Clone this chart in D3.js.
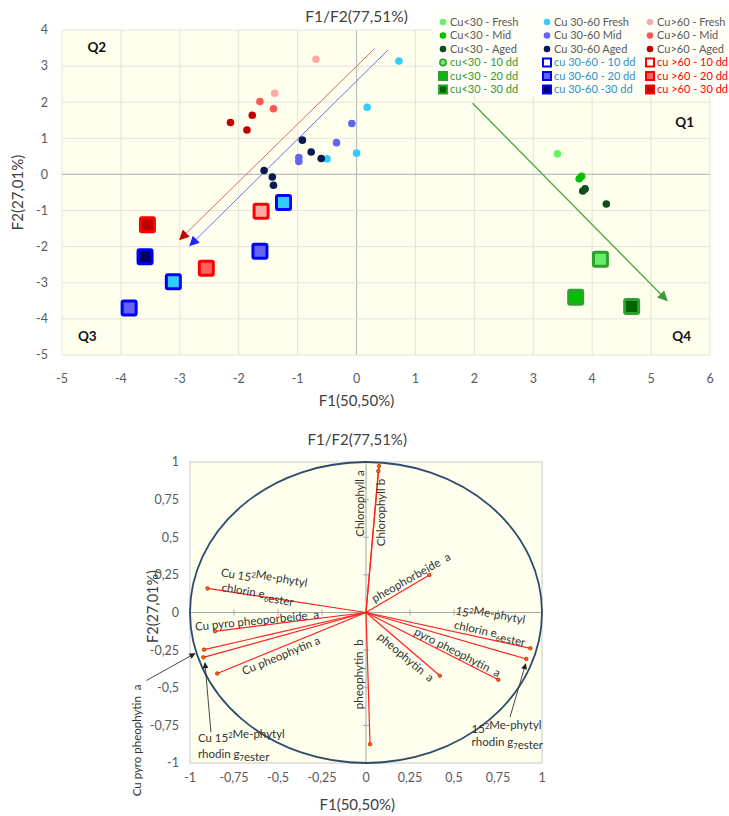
<!DOCTYPE html>
<html><head><meta charset="utf-8">
<script src="https://cdn.jsdelivr.net/npm/d3@7"></script>
<style>
body{margin:0;background:#fff;}
svg{display:block;font-family:Lato,"Liberation Sans",sans-serif;}
</style></head><body>
<svg id="chart" width="729" height="816"></svg>
<script>
// ---------- Score plot data (F1 / F2 scores) ----------
const xTicksTop = [-5,-4,-3,-2,-1,0,1,2,3,4,5,6];
const yTicksTop = [-5,-4,-3,-2,-1,0,1,2,3,4];

const cuLowFresh  = [[3.41,0.57]];
const cuLowMid    = [[3.78,-0.12],[3.82,-0.05]];
const cuLowAged   = [[3.84,-0.46],[3.88,-0.40],[4.24,-0.82]];
const cuMidFresh  = [[0.72,3.14],[0.18,1.86],[0.00,0.59],[-0.50,0.43]];
const cuMidMid    = [[-0.08,1.41],[-0.34,0.88],[-0.98,0.47],[-0.98,0.36]];
const cuMidAged   = [[-0.92,0.95],[-0.77,0.62],[-0.60,0.44],[-1.57,0.11],[-1.43,-0.07],[-1.41,-0.30]];
const cuHighFresh = [[-0.69,3.19],[-1.39,2.25]];
const cuHighMid   = [[-1.64,2.02],[-1.41,1.82]];
const cuHighAged  = [[-2.14,1.44],[-1.86,1.23],[-1.77,1.64]];

const cuLow10  = [[4.14,-2.35]];
const cuLow20  = [[3.72,-3.40]];
const cuLow30  = [[4.67,-3.66]];
const cuMid10  = [[-1.24,-0.78],[-3.11,-2.97]];
const cuMid20  = [[-1.64,-2.13],[-3.86,-3.70]];
const cuMid30  = [[-3.59,-2.28]];
const cuHigh10 = [[-1.62,-1.02]];
const cuHigh20 = [[-2.55,-2.60]];
const cuHigh30 = [[-3.55,-1.39]];

const legendLabels = [
  ["Cu<30 - Fresh","Cu<30 - Mid","Cu<30 - Aged","cu<30 - 10 dd","cu<30 - 20 dd","cu<30 - 30 dd"],
  ["Cu 30-60 Fresh","Cu 30-60 Mid","Cu 30-60 Aged","cu 30-60 - 10 dd","cu 30-60 - 20 dd","cu 30-60 -30 dd"],
  ["Cu>60 - Fresh","Cu>60 - Mid","Cu>60 - Aged","cu >60 - 10 dd","cu >60 - 20 dd","cu >60 - 30 dd"]
];

// trend arrows: [x1, y1, x2, y2] in score units
const trendArrows = [[0.31,3.49,-3.00,-1.80],[0.53,3.44,-2.83,-1.97],[1.97,1.97,5.27,-3.49]];
const quadrantNames = ["Q1","Q2","Q3","Q4"];
const quadrantSpots = [[5.57,1.44],[-4.41,3.52],[-4.57,-4.49],[5.52,-4.49]];

// ---------- Correlation circle data (variable loadings) ----------
const ticksBot = [-1,-0.75,-0.5,-0.25,0,0.25,0.5,0.75,1];
const variables = ["Chlorophyll a","Chlorophyll b","pheophorbeide a","Cu 15²Me-phytyl chlorin e6 ester",
  "Cu pyro pheoporbeide a","Cu pyro pheophytin a","Cu 15²Me-phytyl rhodin g7 ester","Cu pheophytin a",
  "15²Me-phytyl chlorin e6 ester","15²Me-phytyl rhodin g7 ester","pyro pheophytin a","pheophytin a","pheophytin b"];
const loadingsF1 = [0.074,0.070,0.360,-0.900,-0.858,-0.920,-0.924,-0.845,0.934,0.911,0.752,0.420,0.023];
const loadingsF2 = [0.973,0.940,0.249,0.160,-0.125,-0.247,-0.298,-0.405,-0.238,-0.309,-0.447,-0.420,-0.875];
const pointerArrows = [[-1.247,-0.452,-0.972,-0.272],[-0.881,-0.795,-0.915,-0.334],[0.818,-0.696,0.907,-0.341]];

// ---------- drawing ----------
const svg = d3.select("#chart");
const fmt = v => String(v).replace(".", ",");
const defs = svg.append("defs");
function arrowMarker(id, color, w, h) {
  defs.append("marker").attr("id", id).attr("viewBox","0 0 10 10").attr("refX",9).attr("refY",5)
    .attr("markerWidth", w).attr("markerHeight", h).attr("markerUnits","userSpaceOnUse").attr("orient","auto")
    .append("path").attr("d","M0,0 L10,5 L0,10 Z").attr("fill", color);
}
arrowMarker("ahRed", "#C00000", 12, 10);
arrowMarker("ahBlue", "#2222FF", 12, 10);
arrowMarker("ahGreen", "#3C9A3C", 12, 10);
arrowMarker("ahBlack", "#222", 7, 6);

// ===== Score plot =====
const xTop = d3.scaleLinear().domain([-5,6]).range([62,710]);
const yTop = d3.scaleLinear().domain([-5,4]).range([355,30]);
const scoreG = svg.append("g");

scoreG.append("rect").attr("x", xTop(-5)).attr("y", yTop(4))
  .attr("width", xTop(6)-xTop(-5)).attr("height", yTop(-5)-yTop(4)).attr("fill","#FFFFEE");

scoreG.append("g").selectAll("line").data(xTicksTop).join("line")
  .attr("x1", d=>xTop(d)).attr("x2", d=>xTop(d)).attr("y1", yTop(4)).attr("y2", yTop(-5))
  .attr("stroke", d=> d===0 ? "#BDBDBD" : "#E4E4DA").attr("stroke-width", d=> d===0 ? 1.2 : 1);
scoreG.append("g").selectAll("line").data(yTicksTop).join("line")
  .attr("y1", d=>yTop(d)).attr("y2", d=>yTop(d)).attr("x1", xTop(-5)).attr("x2", xTop(6))
  .attr("stroke", d=> d===0 ? "#BDBDBD" : "#E4E4DA").attr("stroke-width", d=> d===0 ? 1.2 : 1);

scoreG.append("g").selectAll("text").data(xTicksTop).join("text")
  .attr("x", d=>xTop(d)).attr("y", 383).attr("text-anchor","middle")
  .attr("font-size", 12.5).attr("fill","#595959").text(d=>d);
scoreG.append("g").selectAll("text").data(yTicksTop).join("text")
  .attr("x", 48).attr("y", d=>yTop(d)).attr("dy","0.35em").attr("text-anchor","end")
  .attr("font-size", 12.5).attr("fill","#595959").text(d=>d);

scoreG.append("text").attr("x", xTop(0)).attr("y", 406).attr("text-anchor","middle")
  .attr("font-size", 15).attr("fill","#404040").text("F1(50,50%)");
scoreG.append("text").attr("transform", `translate(23,${yTop(-0.5)}) rotate(-90)`).attr("text-anchor","middle")
  .attr("font-size", 15).attr("fill","#404040").text("F2(27,01%)");
scoreG.append("text").attr("x", xTop(0)).attr("y", 22).attr("text-anchor","middle")
  .attr("font-size", 15.5).attr("fill","#404040").text("F1/F2(77,51%)");

scoreG.append("g").selectAll("text").data(quadrantNames).join("text")
  .attr("x", (d,i)=>xTop(quadrantSpots[i][0])).attr("y", (d,i)=>yTop(quadrantSpots[i][1]))
  .attr("dy","0.35em").attr("text-anchor","middle").attr("font-size", 13.5).attr("font-weight","bold")
  .attr("fill","#111").text(d=>d);

// trend arrows
const arrowStyle = [["#D46A6A","ahRed",1],["#6F6FEF","ahBlue",1],["#4FAA4F","ahGreen",1.4]];
scoreG.append("g").selectAll("line").data(trendArrows).join("line")
  .attr("x1", d=>xTop(d[0])).attr("y1", d=>yTop(d[1])).attr("x2", d=>xTop(d[2])).attr("y2", d=>yTop(d[3]))
  .attr("stroke", (d,i)=>arrowStyle[i][0]).attr("stroke-width", (d,i)=>arrowStyle[i][2])
  .attr("marker-end", (d,i)=>`url(#${arrowStyle[i][1]})`);

// circle series
const circleSeries = [
  [cuLowFresh,"#66F266"],[cuLowMid,"#00C000"],[cuLowAged,"#0B4F1F"],
  [cuMidFresh,"#33CCFF"],[cuMidMid,"#6363F5"],[cuMidAged,"#0A1A50"],
  [cuHighFresh,"#FFA8A8"],[cuHighMid,"#FF5555"],[cuHighAged,"#C00000"]
];
circleSeries.forEach(([pts,col]) => {
  scoreG.append("g").selectAll("circle").data(pts).join("circle")
    .attr("cx", d=>xTop(d[0])).attr("cy", d=>yTop(d[1])).attr("r", 3.8).attr("fill", col);
});

// square series (fill, border)
const squareSeries = [
  [cuLow10,"#66EE66","#2FA02F"],[cuLow20,"#00C000","#2FA02F"],[cuLow30,"#006400","#2FA02F"],
  [cuMid10,"#33CCFF","#0000FF"],[cuMid20,"#6363F5","#0000FF"],[cuMid30,"#000066","#0000FF"],
  [cuHigh10,"#FFA8A8","#FF0000"],[cuHigh20,"#FF6060","#FF0000"],[cuHigh30,"#C00000","#FF0000"]
];
const sq = 14;
squareSeries.forEach(([pts,fill,stroke]) => {
  scoreG.append("g").selectAll("rect").data(pts).join("rect")
    .attr("x", d=>xTop(d[0])-sq/2).attr("y", d=>yTop(d[1])-sq/2).attr("width", sq).attr("height", sq)
    .attr("rx", 1.5).attr("fill", fill).attr("stroke", stroke).attr("stroke-width", 3);
});

// legend
const lg = scoreG.append("g");
lg.append("rect").attr("x", 433).attr("y", 12).attr("width", 296).attr("height", 84).attr("fill","#FFFFF8");
const colX = [443, 547, 650];
const rowY = [22, 35.5, 49, 62.5, 76, 89.5];
const textCols = [["#595959","#339933"],["#595959","#2E90CC"],["#595959","#FF0000"]];
legendLabels.forEach((col, ci) => {
  col.forEach((lab, ri) => {
    const cx = colX[ci], cy = rowY[ri];
    if (ri < 3) {
      lg.append("circle").attr("cx", cx).attr("cy", cy).attr("r", 3.3).attr("fill", circleSeries[ci*3+ri][1]);
    } else {
      const s = squareSeries[ci*3+ri-3];
      if (ci === 0 && ri === 3) {
        lg.append("circle").attr("cx", cx).attr("cy", cy).attr("r", 3.2)
          .attr("fill", s[1]).attr("stroke", s[2]).attr("stroke-width", 1.5);
      } else {
        lg.append("rect").attr("x", cx-4).attr("y", cy-4).attr("width", 8).attr("height", 8)
          .attr("fill", ri===3 && ci>0 ? "#FFFFFF" : s[1]).attr("stroke", s[2]).attr("stroke-width", 2);
      }
    }
    lg.append("text").attr("x", cx+7).attr("y", cy).attr("dy","0.35em").attr("font-size", 11)
      .attr("fill", ri < 3 ? textCols[ci][0] : textCols[ci][1]).text(lab);
  });
});

// ===== Correlation circle =====
const xBot = d3.scaleLinear().domain([-1,1]).range([190,542]);
const yBot = d3.scaleLinear().domain([-1,1]).range([763,462]);
const circG = svg.append("g");

circG.append("rect").attr("x", xBot(-1)).attr("y", yBot(1)).attr("width", xBot(1)-xBot(-1))
  .attr("height", yBot(-1)-yBot(1)).attr("fill","#FFFFEE").attr("stroke","#C8C8C8").attr("stroke-width",1);

// axes through the origin with small ticks
circG.append("line").attr("x1", xBot(-1)).attr("x2", xBot(1)).attr("y1", yBot(0)).attr("y2", yBot(0))
  .attr("stroke","#A6A6A6").attr("stroke-width",1);
circG.append("line").attr("y1", yBot(-1)).attr("y2", yBot(1)).attr("x1", xBot(0)).attr("x2", xBot(0))
  .attr("stroke","#A6A6A6").attr("stroke-width",1);
circG.append("g").selectAll("line").data(ticksBot).join("line")
  .attr("x1", d=>xBot(d)).attr("x2", d=>xBot(d)).attr("y1", yBot(0)-3).attr("y2", yBot(0)+3)
  .attr("stroke","#A6A6A6");
circG.append("g").selectAll("line").data(ticksBot).join("line")
  .attr("y1", d=>yBot(d)).attr("y2", d=>yBot(d)).attr("x1", xBot(0)-3).attr("x2", xBot(0)+3)
  .attr("stroke","#A6A6A6");

circG.append("g").selectAll("text").data(ticksBot).join("text")
  .attr("x", d=>xBot(d)).attr("y", 782).attr("text-anchor","middle")
  .attr("font-size", 12.5).attr("fill","#595959").text(fmt);
circG.append("g").selectAll("text").data(ticksBot).join("text")
  .attr("x", 179).attr("y", d=>yBot(d)).attr("dy","0.35em").attr("text-anchor","end")
  .attr("font-size", 12.5).attr("fill","#595959").text(fmt);

circG.append("text").attr("x", xBot(-0.05)).attr("y", 445).attr("text-anchor","middle")
  .attr("font-size", 15).attr("fill","#404040").text("F1/F2(77,51%)");
circG.append("text").attr("x", xBot(-0.05)).attr("y", 810).attr("text-anchor","middle")
  .attr("font-size", 15).attr("fill","#404040").text("F1(50,50%)");
circG.append("text").attr("transform", `translate(153,${yBot(0.04)}) rotate(-90)`).attr("text-anchor","middle")
  .attr("dy","0.35em").attr("font-size", 14.5).attr("fill","#404040").text("F2(27,01%)");

circG.append("ellipse").attr("cx", xBot(0)).attr("cy", yBot(0))
  .attr("rx", xBot(1)-xBot(0)).attr("ry", yBot(0)-yBot(1))
  .attr("fill","none").attr("stroke","#2F4B6E").attr("stroke-width",1.8);

// loading vectors
circG.append("g").selectAll("line").data(variables).join("line")
  .attr("x1", xBot(0)).attr("y1", yBot(0))
  .attr("x2", (d,i)=>xBot(loadingsF1[i])).attr("y2", (d,i)=>yBot(loadingsF2[i]))
  .attr("stroke","#FF2020").attr("stroke-width",1.2);
circG.append("g").selectAll("circle").data(variables).join("circle")
  .attr("cx", (d,i)=>xBot(loadingsF1[i])).attr("cy", (d,i)=>yBot(loadingsF2[i])).attr("r", 1.8)
  .attr("fill","#FF6A00").attr("stroke","#A00000").attr("stroke-width",0.6);

// pointer arrows for crowded labels
circG.append("g").selectAll("line").data(pointerArrows).join("line")
  .attr("x1", d=>xBot(d[0])).attr("y1", d=>yBot(d[1])).attr("x2", d=>xBot(d[2])).attr("y2", d=>yBot(d[3]))
  .attr("stroke","#333").attr("stroke-width",0.9).attr("marker-end","url(#ahBlack)");

// variable labels: rich-text lines placed in loading units
const sup2 = ["2","sup"], sub6 = ["6","sub"], sub7 = ["7","sub"];
const labelLines = [
  [[["Chlorophyll a"]], -0.034, 0.724, -90, "middle"],
  [[["Chlorophyll b"]], 0.085, 0.664, -90, "middle"],
  [[["pheophorbeide  a"]], 0.256, 0.233, -29.5, "middle"],
  [[["Cu 15"],sup2,["Me-phytyl"]], -0.58, 0.219, 9.7, "middle"],
  [[["chlorin e"],sub6,["ester"]], -0.614, 0.129, 9.7, "middle"],
  [[["Cu pyro pheoporbeide  a"]], -0.619, -0.053, -5.7, "middle"],
  [[["Cu pheophytin a"]], -0.483, -0.286, -22.5, "middle"],
  [[["Cu pyro pheophytin  a"]], -1.30, -0.85, -90, "middle"],
  [[["Cu 15"],sup2,["Me-phytyl"]], -0.955, -0.834, 0, "start"],
  [[["rhodin g"],sub7,["ester"]], -0.955, -0.937, 0, "start"],
  [[["pheophytin  b"]], -0.04, -0.41, -90, "middle"],
  [[["pheophytin  a"]], 0.226, -0.297, 40, "middle"],
  [[["pyro pheophytin  a"]], 0.52, -0.264, 27, "middle"],
  [[["15"],sup2,["Me-phytyl"]], 0.705, -0.031, 11, "middle"],
  [[["chlorin e"],sub6,["ester"]], 0.705, -0.131, 12, "middle"],
  [[["15"],sup2,["Me-phytyl"]], 0.60, -0.772, 0, "start"],
  [[["rhodin g"],sub7,["ester"]], 0.60, -0.861, 0, "start"]
];
labelLines.forEach(([parts, lx, ly, rot, anchor]) => {
  const t = circG.append("text")
    .attr("transform", `translate(${xBot(lx)},${yBot(ly)}) rotate(${rot})`)
    .attr("text-anchor", anchor).attr("dy","0.35em").attr("font-size", 11.5).attr("fill","#333")
    .attr("xml:space","preserve");
  parts.forEach(p => {
    const ts = t.append("tspan").text(p[0]);
    if (p[1] === "sup") ts.attr("font-size", 7.5).attr("dy", "-4");
    if (p[1] === "sub") ts.attr("font-size", 7.5).attr("dy", "3");
    if (p[1]) {
      // return to the baseline for the following part
      t.append("tspan").attr("dy", p[1] === "sup" ? "4" : "-3").text("");
    }
  });
});
</script>
</body></html>
